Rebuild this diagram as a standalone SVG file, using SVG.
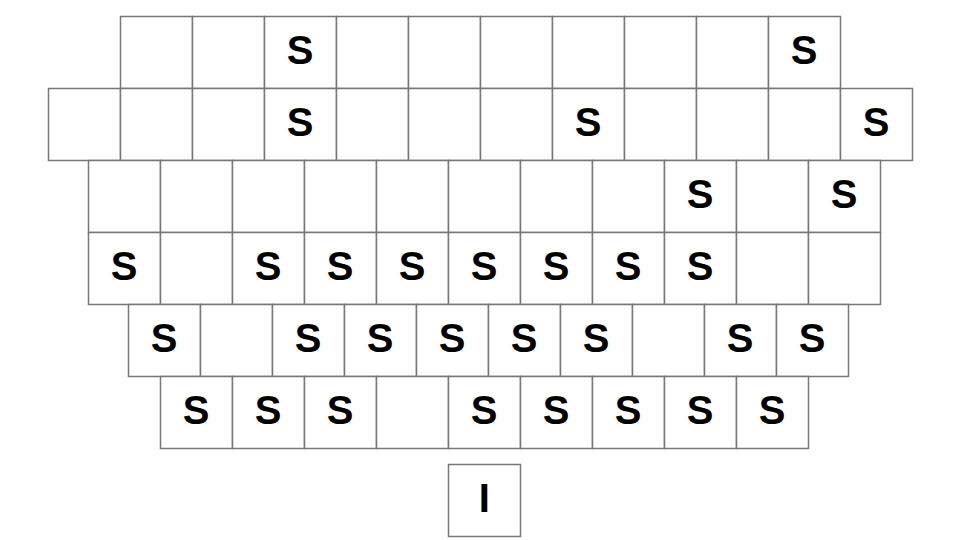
<svg xmlns="http://www.w3.org/2000/svg" width="960" height="540" viewBox="0 0 960 540">
<style>
rect{fill:#fff;stroke:#777;stroke-width:1.5}
text{font-family:"Liberation Sans",Arial,sans-serif;font-weight:bold;font-size:40px;fill:#000;text-anchor:middle}
</style>
<rect x="0" y="0" width="960" height="540" style="stroke:none"/>
<g id="row1">
<g id="r1c1"><rect x="120.5" y="16.5" width="72" height="72"/></g>
<g id="r1c2"><rect x="192.5" y="16.5" width="72" height="72"/></g>
<g id="r1c3"><rect x="264.5" y="16.5" width="72" height="72"/><text x="300.2" y="63.5">S</text></g>
<g id="r1c4"><rect x="336.5" y="16.5" width="72" height="72"/></g>
<g id="r1c5"><rect x="408.5" y="16.5" width="72" height="72"/></g>
<g id="r1c6"><rect x="480.5" y="16.5" width="72" height="72"/></g>
<g id="r1c7"><rect x="552.5" y="16.5" width="72" height="72"/></g>
<g id="r1c8"><rect x="624.5" y="16.5" width="72" height="72"/></g>
<g id="r1c9"><rect x="696.5" y="16.5" width="72" height="72"/></g>
<g id="r1c10"><rect x="768.5" y="16.5" width="72" height="72"/><text x="804.2" y="63.5">S</text></g>
</g>
<g id="row2">
<g id="r2c1"><rect x="48.5" y="88.5" width="72" height="72"/></g>
<g id="r2c2"><rect x="120.5" y="88.5" width="72" height="72"/></g>
<g id="r2c3"><rect x="192.5" y="88.5" width="72" height="72"/></g>
<g id="r2c4"><rect x="264.5" y="88.5" width="72" height="72"/><text x="300.2" y="135.5">S</text></g>
<g id="r2c5"><rect x="336.5" y="88.5" width="72" height="72"/></g>
<g id="r2c6"><rect x="408.5" y="88.5" width="72" height="72"/></g>
<g id="r2c7"><rect x="480.5" y="88.5" width="72" height="72"/></g>
<g id="r2c8"><rect x="552.5" y="88.5" width="72" height="72"/><text x="588.2" y="135.5">S</text></g>
<g id="r2c9"><rect x="624.5" y="88.5" width="72" height="72"/></g>
<g id="r2c10"><rect x="696.5" y="88.5" width="72" height="72"/></g>
<g id="r2c11"><rect x="768.5" y="88.5" width="72" height="72"/></g>
<g id="r2c12"><rect x="840.5" y="88.5" width="72" height="72"/><text x="876.2" y="135.5">S</text></g>
</g>
<g id="row3">
<g id="r3c1"><rect x="88.5" y="160.5" width="72" height="72"/></g>
<g id="r3c2"><rect x="160.5" y="160.5" width="72" height="72"/></g>
<g id="r3c3"><rect x="232.5" y="160.5" width="72" height="72"/></g>
<g id="r3c4"><rect x="304.5" y="160.5" width="72" height="72"/></g>
<g id="r3c5"><rect x="376.5" y="160.5" width="72" height="72"/></g>
<g id="r3c6"><rect x="448.5" y="160.5" width="72" height="72"/></g>
<g id="r3c7"><rect x="520.5" y="160.5" width="72" height="72"/></g>
<g id="r3c8"><rect x="592.5" y="160.5" width="72" height="72"/></g>
<g id="r3c9"><rect x="664.5" y="160.5" width="72" height="72"/><text x="700.2" y="207.5">S</text></g>
<g id="r3c10"><rect x="736.5" y="160.5" width="72" height="72"/></g>
<g id="r3c11"><rect x="808.5" y="160.5" width="72" height="72"/><text x="844.2" y="207.5">S</text></g>
</g>
<g id="row4">
<g id="r4c1"><rect x="88.5" y="232.5" width="72" height="72"/><text x="124.2" y="279.5">S</text></g>
<g id="r4c2"><rect x="160.5" y="232.5" width="72" height="72"/></g>
<g id="r4c3"><rect x="232.5" y="232.5" width="72" height="72"/><text x="268.2" y="279.5">S</text></g>
<g id="r4c4"><rect x="304.5" y="232.5" width="72" height="72"/><text x="340.2" y="279.5">S</text></g>
<g id="r4c5"><rect x="376.5" y="232.5" width="72" height="72"/><text x="412.2" y="279.5">S</text></g>
<g id="r4c6"><rect x="448.5" y="232.5" width="72" height="72"/><text x="484.2" y="279.5">S</text></g>
<g id="r4c7"><rect x="520.5" y="232.5" width="72" height="72"/><text x="556.2" y="279.5">S</text></g>
<g id="r4c8"><rect x="592.5" y="232.5" width="72" height="72"/><text x="628.2" y="279.5">S</text></g>
<g id="r4c9"><rect x="664.5" y="232.5" width="72" height="72"/><text x="700.2" y="279.5">S</text></g>
<g id="r4c10"><rect x="736.5" y="232.5" width="72" height="72"/></g>
<g id="r4c11"><rect x="808.5" y="232.5" width="72" height="72"/></g>
</g>
<g id="row5">
<g id="r5c1"><rect x="128.5" y="304.5" width="72" height="72"/><text x="164.2" y="351.5">S</text></g>
<g id="r5c2"><rect x="200.5" y="304.5" width="72" height="72"/></g>
<g id="r5c3"><rect x="272.5" y="304.5" width="72" height="72"/><text x="308.2" y="351.5">S</text></g>
<g id="r5c4"><rect x="344.5" y="304.5" width="72" height="72"/><text x="380.2" y="351.5">S</text></g>
<g id="r5c5"><rect x="416.5" y="304.5" width="72" height="72"/><text x="452.2" y="351.5">S</text></g>
<g id="r5c6"><rect x="488.5" y="304.5" width="72" height="72"/><text x="524.2" y="351.5">S</text></g>
<g id="r5c7"><rect x="560.5" y="304.5" width="72" height="72"/><text x="596.2" y="351.5">S</text></g>
<g id="r5c8"><rect x="632.5" y="304.5" width="72" height="72"/></g>
<g id="r5c9"><rect x="704.5" y="304.5" width="72" height="72"/><text x="740.2" y="351.5">S</text></g>
<g id="r5c10"><rect x="776.5" y="304.5" width="72" height="72"/><text x="812.2" y="351.5">S</text></g>
</g>
<g id="row6">
<g id="r6c1"><rect x="160.5" y="376.5" width="72" height="72"/><text x="196.2" y="423.5">S</text></g>
<g id="r6c2"><rect x="232.5" y="376.5" width="72" height="72"/><text x="268.2" y="423.5">S</text></g>
<g id="r6c3"><rect x="304.5" y="376.5" width="72" height="72"/><text x="340.2" y="423.5">S</text></g>
<g id="r6c4"><rect x="376.5" y="376.5" width="72" height="72"/></g>
<g id="r6c5"><rect x="448.5" y="376.5" width="72" height="72"/><text x="484.2" y="423.5">S</text></g>
<g id="r6c6"><rect x="520.5" y="376.5" width="72" height="72"/><text x="556.2" y="423.5">S</text></g>
<g id="r6c7"><rect x="592.5" y="376.5" width="72" height="72"/><text x="628.2" y="423.5">S</text></g>
<g id="r6c8"><rect x="664.5" y="376.5" width="72" height="72"/><text x="700.2" y="423.5">S</text></g>
<g id="r6c9"><rect x="736.5" y="376.5" width="72" height="72"/><text x="772.2" y="423.5">S</text></g>
</g>
<g id="single">
<g id="r7c1"><rect x="448.5" y="464.5" width="72" height="72"/><text x="484.2" y="511.5">I</text></g>
</g>
<g id="connectors"></g>
</svg>
